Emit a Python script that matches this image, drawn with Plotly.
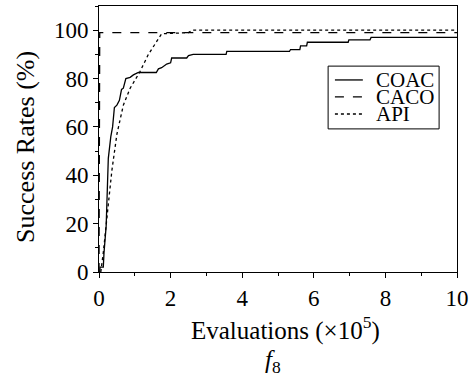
import plotly.graph_objects as go

# Success rate curves (%) against evaluations (x 10^5)
coac_x = [0.02, 0.03, 0.12, 0.14, 0.20, 0.26, 0.33, 0.38, 0.43, 0.50, 0.57, 0.63, 0.68, 0.75,
          0.87, 0.96, 1.10, 1.60, 1.66, 1.75, 1.89, 2.00, 2.03, 2.45, 2.50, 2.63, 3.55, 3.57,
          5.32, 5.35, 5.61, 5.63, 5.80, 5.82, 6.96, 6.98, 7.57, 7.60, 10.0]
coac_y = [0, 2, 2, 8, 19, 47, 56, 60, 68, 69, 71, 75.5, 76, 80,
          80.5, 81.5, 82.5, 82.5, 84, 84.5, 86, 86.5, 88.5, 88.5, 89.5, 90, 90, 91.2,
          91.2, 92, 92, 93.5, 93.5, 95, 95, 96, 96, 97, 97]

caco_x = [0.0, 0.02, 10.0]
caco_y = [0, 99, 99]

api_x = [0.05, 0.12, 0.26, 0.36, 0.50, 0.68, 0.87, 1.15, 1.38, 1.75, 2.50, 2.60, 10.0]
api_y = [0, 8, 28, 42, 57, 69, 76, 83, 90, 98.5, 99, 100, 100]

x_ticks = [0, 2, 4, 6, 8, 10]
y_ticks = [0, 20, 40, 60, 80, 100]

FONT = "Liberation Serif"
LINE_W = 1.3

series = [
    ("COAC", coac_x, coac_y, "solid"),
    ("CACO", caco_x, caco_y, "dash"),
    ("API", api_x, api_y, "dot"),
]

fig = go.Figure()
for name, xs, ys, dash in series:
    fig.add_trace(go.Scatter(x=xs, y=ys, mode="lines", name=name, showlegend=False,
                             line=dict(color="black", width=LINE_W, dash=dash)))

axis_common = dict(
    showline=True, linecolor="black", linewidth=1, mirror=True,
    showgrid=False, zeroline=False,
    ticks="outside", ticklen=5, tickwidth=1, tickcolor="black",
    tickfont=dict(family=FONT, size=23, color="black"),
)

fig.update_xaxes(range=[0, 10], tickvals=x_ticks,
                 minor=dict(dtick=1, ticks="outside", ticklen=3, tickcolor="black"),
                 **axis_common)
fig.update_yaxes(range=[0, 110], tickvals=y_ticks,
                 minor=dict(dtick=10, ticks="outside", ticklen=3, tickcolor="black"),
                 **axis_common)

# Compact boxed key in the upper right of the plot area
key_x0, key_x1 = 0.640, 0.950
key_y0, key_y1 = 0.538, 0.774
row_y = [0.722, 0.658, 0.594]
sample_x0, sample_x1 = 0.659, 0.737
label_x = 0.768

shapes = [dict(type="rect", xref="paper", yref="paper",
               x0=key_x0, x1=key_x1, y0=key_y0, y1=key_y1,
               line=dict(color="black", width=1), fillcolor="white", layer="above")]
annotations = []
for (name, _, _, dash), ry in zip(series, row_y):
    shapes.append(dict(type="line", xref="paper", yref="paper",
                       x0=sample_x0, x1=sample_x1, y0=ry, y1=ry, layer="above",
                       line=dict(color="black", width=LINE_W, dash=dash)))
    annotations.append(dict(text=name, xref="paper", yref="paper", x=label_x, y=ry,
                            xanchor="left", yanchor="middle", showarrow=False,
                            font=dict(family=FONT, size=21, color="black")))

annotations += [
    dict(text="Evaluations (×10<sup>5</sup>)", xref="paper", yref="paper",
         x=0.52, y=-0.214, xanchor="center", yanchor="middle", showarrow=False,
         font=dict(family=FONT, size=25, color="black")),
    dict(text="<i>f</i><sub>8</sub>", xref="paper", yref="paper",
         x=0.486, y=-0.336, xanchor="center", yanchor="middle", showarrow=False,
         font=dict(family=FONT, size=25, color="black")),
    dict(text="Success Rates (%)", xref="paper", yref="paper",
         x=-0.204, y=0.47, xanchor="center", yanchor="middle", showarrow=False,
         textangle=-90, font=dict(family=FONT, size=26, color="black")),
]

fig.update_layout(
    width=476, height=376,
    margin=dict(l=99, r=19, t=6, b=104),
    plot_bgcolor="white", paper_bgcolor="white",
    font=dict(family=FONT, color="black"),
    showlegend=False,
    shapes=shapes,
    annotations=annotations,
)

fig.write_html("out.html")
